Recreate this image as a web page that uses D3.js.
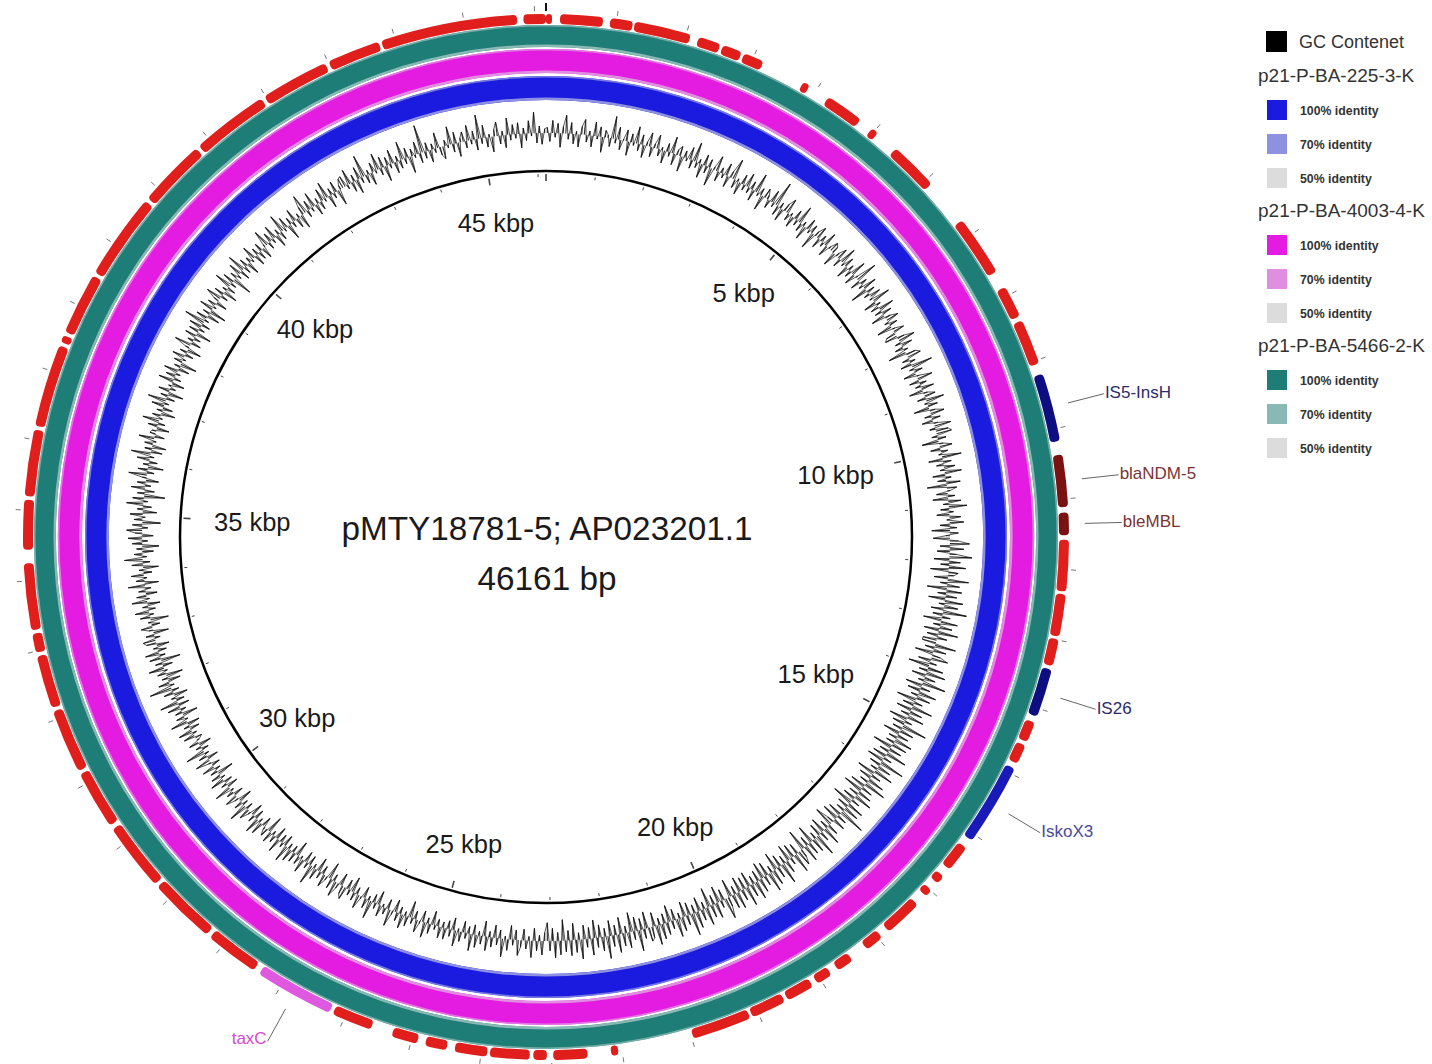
<!DOCTYPE html>
<html>
<head>
<meta charset="utf-8">
<script src="https://cdn.jsdelivr.net/npm/d3@7"></script>
<style>
  body { margin: 0; background: #fff; }
  svg { display: block; font-family: "Liberation Sans", Arial, sans-serif; }
</style>
</head>
<body>
<div id="map"></div>
<script>
const genomeLength = 46161;
const titleLines = ["pMTY18781-5; AP023201.1", "46161 bp"];

// backbone tick labels
const tickPositions = [5000, 10000, 15000, 20000, 25000, 30000, 35000, 40000, 45000];
const tickLabels = ["5 kbp", "10 kbp", "15 kbp", "20 kbp", "25 kbp", "30 kbp", "35 kbp", "40 kbp", "45 kbp"];

// BLAST rings (inner -> outer)
const ringNames = ["p21-P-BA-225-3-K", "p21-P-BA-4003-4-K", "p21-P-BA-5466-2-K"];
const identityLevels = ["100% identity", "70% identity", "50% identity"];

// annotated CDS on the outer ring (bp)
const cdsStart = [45841, 0, 199, 910, 1257, 2180, 2539, 2859, 3783, 4193, 4949, 5385, 6757, 7873, 8399,
  11579, 12348, 12989, 14207, 14554, 16220, 16733, 16990, 17272, 17951, 18477, 18836, 19144, 19593, 20131,
  22055, 22491, 23068, 23311, 23914, 24491, 24914, 25594, 27440, 28273, 29286, 30325, 31210, 32171, 32980,
  33300, 34441, 35198, 36198, 37429, 37583, 38518, 39801, 40827, 41981, 43007, 43802];
const cdsEnd = [46161, 85, 808, 1231, 2064, 2500, 2821, 3154, 3885, 4744, 5052, 6091, 7629, 8335, 9053,
  12310, 12951, 13374, 14502, 14836, 16605, 16862, 17105, 17823, 18221, 18721, 19067, 19542, 20093, 20978,
  22157, 22978, 23260, 23875, 24376, 24799, 25286, 26171, 28210, 29235, 30261, 31159, 32120, 32928, 33249,
  34249, 35147, 36146, 37378, 37532, 38468, 39750, 40776, 41930, 42955, 43763, 45751];

// labelled genes
const geneNames = ["IS5-InsH", "blaNDM-5", "bleMBL", "IS26", "IskoX3", "taxC"];
const geneStart = [9206, 10373, 11194, 13425, 14913, 26222];
const geneEnd = [10181, 11117, 11515, 14118, 16092, 27350];
const geneKind = ["is", "amr", "amr", "is", "isko", "tax"];

// GC content, deviation from the mean (%), 960 windows of ~48 bp
const gcContent = [
  4,-6,9,-3,7,-10,5,13,-4,8,-7,2,-9,6,11,-5,3,-8,10,-2,7,-11,5,2,-6,16,-3,9,-7,1,8,-10,6,-2,12,-5,7,-9,3,10,
  -7,3,10,-5,2,-9,6,-3,12,-8,4,7,-11,5,-2,9,-6,14,-4,3,-10,8,-5,6,-13,2,11,-7,4,-3,9,-8,5,15,-6,2,-9,7,-4,10,
  -4,6,-8,14,-2,5,-11,7,3,-6,9,-3,18,-7,4,-9,6,11,-5,2,-8,7,-4,13,-6,3,-10,8,-2,6,-12,4,9,-7,5,-3,10,-8,2,7,
  5,-10,3,8,-6,12,-2,7,-9,4,-5,11,-8,2,16,-7,5,-3,10,-12,6,-4,8,-2,13,-9,3,-6,11,-5,7,-10,4,9,-3,6,-11,2,8,-7,
  -9,5,12,-4,8,-6,3,-13,7,10,-5,4,-8,15,-3,6,-9,2,11,-7,5,-4,9,-10,3,8,-6,13,-2,7,-11,4,10,-5,6,-8,3,12,-4,9,
  11,-4,6,-12,3,9,-7,5,-2,14,-10,6,-5,8,-3,12,-9,4,-6,10,-14,7,2,-8,5,-11,9,-4,13,-6,3,-9,8,-2,10,-7,5,-13,6,-3,
  -12,6,14,-7,10,-9,5,16,-11,8,-6,12,-13,7,4,-10,15,-5,9,-14,11,-6,8,-12,13,-4,10,-9,17,-7,6,-13,12,-5,9,-11,14,-8,7,-10,
  -10,15,-7,9,-13,6,12,-9,5,-15,11,-6,14,-10,8,-4,17,-12,7,-9,13,-5,10,-14,6,-8,15,-11,9,-6,12,-13,5,-9,18,-7,10,-12,8,-6,
  13,-6,11,-14,9,-7,15,-10,6,-12,18,-8,10,-5,14,-13,7,-9,12,-6,16,-11,8,-14,10,-7,13,-9,6,-15,12,-8,11,-6,19,-10,7,-12,9,-5,
  -14,8,-6,13,-11,7,-9,16,-5,10,-13,9,-7,12,-15,6,11,-8,14,-10,5,-12,9,-6,15,-9,8,-13,11,-5,14,-10,7,-12,10,-8,13,-6,9,-11,
  14,-9,8,-11,12,-6,10,-13,7,15,-8,5,-12,11,-7,9,-14,13,-5,8,-10,12,-6,16,-9,7,-11,10,-4,13,-8,6,-12,9,-7,11,-5,14,-10,8,
  10,-12,7,-8,15,-10,6,-14,11,-5,9,-12,13,-7,8,-11,16,-6,10,-9,7,-13,12,-8,6,-10,14,-5,9,-12,11,-7,8,-15,10,-6,12,-9,7,-13,
  -6,10,-4,7,-9,12,-3,6,-8,5,11,-7,4,-10,8,-2,13,-6,5,-9,7,-4,10,-11,6,-3,9,-7,12,-5,4,-8,7,-2,11,-9,5,-6,8,-4,
  8,-5,3,-10,7,-4,11,-8,2,9,-6,4,-12,7,-3,10,-5,6,-9,3,12,-7,5,-2,8,-10,4,-6,13,-3,7,-8,2,10,-5,6,-11,4,-7,9,
  6,-9,4,11,-5,7,-12,3,9,-6,5,-10,8,-3,14,-7,4,-8,10,-2,6,-11,7,-5,9,-4,12,-8,3,-6,10,-9,5,-3,8,-12,6,2,-7,9,
  -3,11,-7,5,-9,2,8,-5,13,-4,6,-10,3,9,-7,5,-2,12,-8,4,-6,10,-3,7,-12,5,-4,9,-6,2,11,-8,6,-3,14,-5,4,-9,7,-2,
  -5,8,-3,10,-7,4,-9,12,-2,6,-11,5,-4,9,-8,13,-6,3,-10,7,-5,16,-3,8,-9,4,-12,6,-2,11,-7,5,-14,8,-4,10,-6,3,-9,7,
  9,-4,6,-11,3,8,-6,2,-13,7,-3,10,-5,4,-9,11,-2,7,-8,5,-4,12,-10,6,-2,9,-6,3,-11,8,-5,13,-3,6,-8,4,-12,7,-4,10,
  -8,5,11,-4,7,-13,6,-2,9,-10,4,-6,12,-3,8,-15,5,-7,10,-4,6,-9,3,13,-5,7,-11,4,-6,9,-3,14,-8,5,-10,6,-2,11,-7,4,
  3,-9,7,-5,12,-2,6,-10,4,-7,9,-3,13,-6,5,-11,8,-4,2,-9,11,-5,7,-3,10,-8,4,-12,6,-2,9,-6,5,-10,3,12,-7,4,-5,8,
  -11,7,-4,9,-6,15,-3,8,-9,5,-12,10,-2,6,-8,4,11,-5,7,-10,3,-6,12,-4,8,-14,5,-3,9,-7,13,-5,6,-9,4,-2,10,-8,5,-6,
  6,-8,2,12,-5,7,-3,10,-9,4,-6,13,-2,8,-11,5,-4,9,-7,3,-10,6,14,-5,7,-3,11,-8,4,-6,9,-2,12,-9,5,-4,8,-11,3,7,
  8,-3,11,-7,5,-10,9,-4,16,-6,3,-9,7,-2,12,-5,8,-11,6,-3,10,-8,4,-6,13,-4,7,-12,5,-2,9,-7,20,-5,6,-9,4,-3,11,-6,
  -9,4,-2,13,-6,8,-10,3,7,-5,11,-3,6,-8,17,-4,9,-7,2,-11,5,10,-6,3,-9,12,-4,7,-3,8,-10,4,-5,9,-2,15,-7,5,-8,3
];

const width = 1432, height = 1064;
const cx = 546, cy = 537;

const ringColors = [
  ["#1b1be0", "#8e90e0", "#dcdcdc"],
  ["#e41be0", "#e08fe0", "#dcdcdc"],
  ["#1e7d76", "#8ab9b5", "#dcdcdc"]
];
const ringRadii = [[437, 461], [464, 488], [490, 512]];
const geneColors = { is: "#0e0e80", amr: "#7a1212", isko: "#1a1ab8", tax: "#e058e0" };
const geneTextColors = { is: "#2b2b6e", amr: "#7a3434", isko: "#4a4a9c", tax: "#d24ad2" };

const svg = d3.select("#map").append("svg")
  .attr("width", width)
  .attr("height", height);

const g = svg.append("g").attr("transform", `translate(${cx},${cy})`);

const angle = d3.scaleLinear().domain([0, genomeLength]).range([0, 2 * Math.PI]);
const polar = (a, r) => [Math.sin(a) * r, -Math.cos(a) * r];

// identity rings
ringRadii.forEach((rr, i) => {
  const full = d3.arc().innerRadius(rr[0]).outerRadius(rr[1]).startAngle(0).endAngle(2 * Math.PI);
  g.append("path").attr("d", full()).attr("fill", ringColors[i][0]);
  const edgeIn = d3.arc().innerRadius(rr[0]).outerRadius(rr[0] + 2.5).startAngle(0).endAngle(2 * Math.PI);
  const edgeOut = d3.arc().innerRadius(rr[1] - 1.5).outerRadius(rr[1]).startAngle(0).endAngle(2 * Math.PI);
  g.append("path").attr("d", edgeIn()).attr("fill", ringColors[i][1]);
  g.append("path").attr("d", edgeOut()).attr("fill", ringColors[i][1]).attr("opacity", 0.8);
});

// outer feature ring
const featArc = d3.arc().innerRadius(513).outerRadius(523).cornerRadius(4);
const cds = cdsStart.map((s, i) => ({ s: s, e: cdsEnd[i] }));
g.selectAll("path.cds").data(cds).join("path")
  .attr("class", "cds")
  .attr("d", d => featArc({ startAngle: angle(d.s), endAngle: angle(d.e) }))
  .attr("fill", "#e01f1c");

const genes = geneNames.map((n, i) => ({ name: n, s: geneStart[i], e: geneEnd[i], kind: geneKind[i] }));
g.selectAll("path.gene").data(genes).join("path")
  .attr("class", "gene")
  .attr("d", d => featArc({ startAngle: angle(d.s), endAngle: angle(d.e) }))
  .attr("fill", d => geneColors[d.kind]);

// gene labels with leader lines
genes.forEach(d => {
  const a = angle((d.s + d.e) / 2);
  const p0 = polar(a, 539), p1 = polar(a, 576);
  g.append("line")
    .attr("x1", p0[0]).attr("y1", p0[1]).attr("x2", p1[0]).attr("y2", p1[1])
    .attr("stroke", "#666").attr("stroke-width", 1);
  const left = Math.sin(a) < 0;
  g.append("text")
    .attr("x", p1[0] + (left ? -1 : 1))
    .attr("y", p1[1] + (left ? -3 : -1))
    .attr("text-anchor", left ? "end" : "start")
    .attr("dominant-baseline", "central")
    .attr("font-size", 17)
    .attr("fill", geneTextColors[d.kind])
    .text(d.name);
});

// outer ticks every kbp
const kbTicks = d3.range(0, genomeLength, 1000);
g.selectAll("line.otick").data(kbTicks).join("line")
  .attr("class", "otick")
  .each(function (d) {
    const a = angle(d);
    const r1 = d === 0 ? 534 : 531;
    const p0 = polar(a, 526), p1 = polar(a, r1);
    d3.select(this).attr("x1", p0[0]).attr("y1", p0[1]).attr("x2", p1[0]).attr("y2", p1[1]);
  })
  .attr("stroke", d => d === 0 ? "#111" : "#777")
  .attr("stroke-width", d => d === 0 ? 2 : 1);

// GC content
const gcR = d3.scaleLinear().domain([-20, 20]).range([376, 432]);
const gcData = gcContent.map((v, i) => ({ pos: (i + 0.5) * genomeLength / gcContent.length, v: v }));
g.selectAll("line.gc").data(gcData).join("line")
  .attr("class", "gc")
  .each(function (d) {
    const a = angle(d.pos);
    const p0 = polar(a, gcR(0)), p1 = polar(a, gcR(d.v));
    d3.select(this).attr("x1", p0[0]).attr("y1", p0[1]).attr("x2", p1[0]).attr("y2", p1[1]);
  })
  .attr("stroke", "#2a2a2a").attr("stroke-width", 1.1);
g.append("path")
  .datum(gcData)
  .attr("d", d3.lineRadial().angle(d => angle(d.pos)).radius(d => gcR(d.v)).curve(d3.curveLinearClosed))
  .attr("fill", "none").attr("stroke", "#111").attr("stroke-width", 0.7);

// backbone
g.append("circle").attr("r", 366).attr("fill", "none").attr("stroke", "#000").attr("stroke-width", 2.5);
g.selectAll("line.itick").data(kbTicks).join("line")
  .attr("class", "itick")
  .each(function (d) {
    const a = angle(d);
    const major = d % 5000 === 0;
    const p0 = polar(a, 363), p1 = polar(a, major ? 356 : 360);
    d3.select(this).attr("x1", p0[0]).attr("y1", p0[1]).attr("x2", p1[0]).attr("y2", p1[1]);
  })
  .attr("stroke", "#444")
  .attr("stroke-width", d => d % 5000 === 0 ? 1.6 : 1);

g.selectAll("text.klab").data(tickPositions).join("text")
  .attr("class", "klab")
  .each(function (d, i) {
    const a = angle(d);
    const s = Math.abs(Math.sin(a));
    const r = 318 - 24 * Math.pow(s, 4);
    const p = polar(a, r);
    d3.select(this).attr("x", p[0]).attr("y", p[1]).text(tickLabels[i]);
  })
  .attr("text-anchor", "middle")
  .attr("dominant-baseline", "central")
  .attr("font-size", 25.5)
  .attr("fill", "#1a1a1a");

// title
g.selectAll("text.title").data(titleLines).join("text")
  .attr("class", "title")
  .attr("x", 1)
  .attr("y", (d, i) => -9 + i * 50)
  .attr("text-anchor", "middle")
  .attr("dominant-baseline", "central")
  .attr("font-size", 33.3)
  .attr("fill", "#1a1a1a")
  .text(d => d);

// legend
const lg = svg.append("g").attr("transform", "translate(1266,0)");
lg.append("rect").attr("x", 0).attr("y", 31).attr("width", 21).attr("height", 21).attr("fill", "#000");
lg.append("text").attr("x", 33).attr("y", 42).attr("dominant-baseline", "central")
  .attr("font-size", 18).attr("fill", "#333").text("GC Contenet");

ringNames.forEach((name, i) => {
  const y0 = 75 + i * 135;
  lg.append("text").attr("x", -8).attr("y", y0).attr("dominant-baseline", "central")
    .attr("font-size", 19).attr("fill", "#333").text(name);
  identityLevels.forEach((lab, j) => {
    const yc = y0 + 35 + j * 34;
    lg.append("rect").attr("x", 1).attr("y", yc - 10).attr("width", 20).attr("height", 20)
      .attr("fill", ringColors[i][j]);
    lg.append("text").attr("x", 34).attr("y", yc + 1).attr("dominant-baseline", "central")
      .attr("font-size", 12.3).attr("font-weight", "bold").attr("fill", "#333").text(lab);
  });
});
</script>
</body>
</html>
